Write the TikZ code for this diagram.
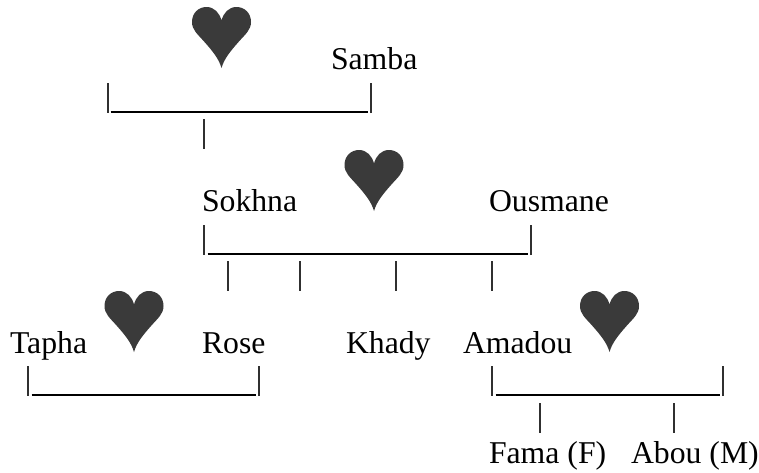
\documentclass[tikz,border=0pt]{standalone}
\usepackage{fontspec}
\setmainfont{Liberation Serif}
\definecolor{heartgray}{HTML}{3A3A3A}
\definecolor{inkgray}{HTML}{303030}
\tikzset{
  x=0.75pt,y=-0.75pt,
  person/.style={anchor=base west,inner sep=0pt,outer sep=0pt,font=\fontsize{23.8pt}{27pt}\selectfont,text=black},
  rule/.style={draw=inkgray,line width=1.05pt},
  underbar/.style={draw=black,line width=1.1pt},
  heartmark/.pic={
    \fill[heartgray] (0,61) .. controls (-2.5,52) and (-9,44) .. (-17,35)
      .. controls (-24,27) and (-29.5,23) .. (-29.5,15)
      .. controls (-29.5,6) and (-23,0) .. (-15,0)
      .. controls (-7,0) and (-2,6) .. (0,13.5)
      .. controls (2,6) and (7,0) .. (15,0)
      .. controls (23,0) and (29.5,6) .. (29.5,15)
      .. controls (29.5,23) and (24,27) .. (17,35)
      .. controls (9,44) and (2.5,52) .. (0,61) -- cycle;
  }
}
\begin{document}
\begin{tikzpicture}
\useasboundingbox (0,0) rectangle (759,472);
% hearts
\pic at (221.5,7) {heartmark};
\pic at (374,150) {heartmark};
\pic at (134,291) {heartmark};
\pic at (609.5,291) {heartmark};
% names
\node[person] (samba) at (331,69) {Samba};
\node[person] (sokhna) at (202,211) {Sokhna};
\node[person] (ousmane) at (489,211) {Ousmane};
\node[person] (tapha) at (10,353) {Tapha};
\node[person] (rose) at (202,353) {Rose};
\node[person] (khady) at (346,353) {Khady};
\node[person] (amadou) at (463,353) {Amadou};
\node[person] (fama) at (489,463) {Fama (F)};
\node[person] (abou) at (631,463) {Abou (M)};
% bracket anchors
\foreach \n/\x/\y in {
  a/108/83, b/108/113, c/110.5/112, d/367.5/112, e/371/113, f/371/83, g/204/119, h/204/149,
  i/204/225, j/204/255, k/207.5/254, l/527.5/254, m/531/255, n/531/225,
  s1/228/261, s2/228/291, s3/300/261, s4/300/291, s5/396/261, s6/396/291, s7/492/261, s8/492/291,
  o/28/366, p/28/396, q/31.5/395, r/255.5/395, t/259/396, u/259/366,
  v/492/366, w/492/396, x/495.5/395, y/719.5/395, z/723/396, zz/723/366,
  f1/540/403, f2/540/433, f3/674/403, f4/674/433}
  {\coordinate (\n) at (\x,\y);}
% brackets
\draw[rule] (a) -- (b); \draw[rule] (e) -- (f); \draw[underbar] (c) -- (d); \draw[rule] (g) -- (h);
\draw[rule] (i) -- (j); \draw[rule] (m) -- (n); \draw[underbar] (k) -- (l);
\draw[rule] (s1) -- (s2); \draw[rule] (s3) -- (s4); \draw[rule] (s5) -- (s6); \draw[rule] (s7) -- (s8);
\draw[rule] (o) -- (p); \draw[rule] (t) -- (u); \draw[underbar] (q) -- (r);
\draw[rule] (v) -- (w); \draw[rule] (z) -- (zz); \draw[underbar] (x) -- (y);
\draw[rule] (f1) -- (f2); \draw[rule] (f3) -- (f4);
\end{tikzpicture}
\end{document}
